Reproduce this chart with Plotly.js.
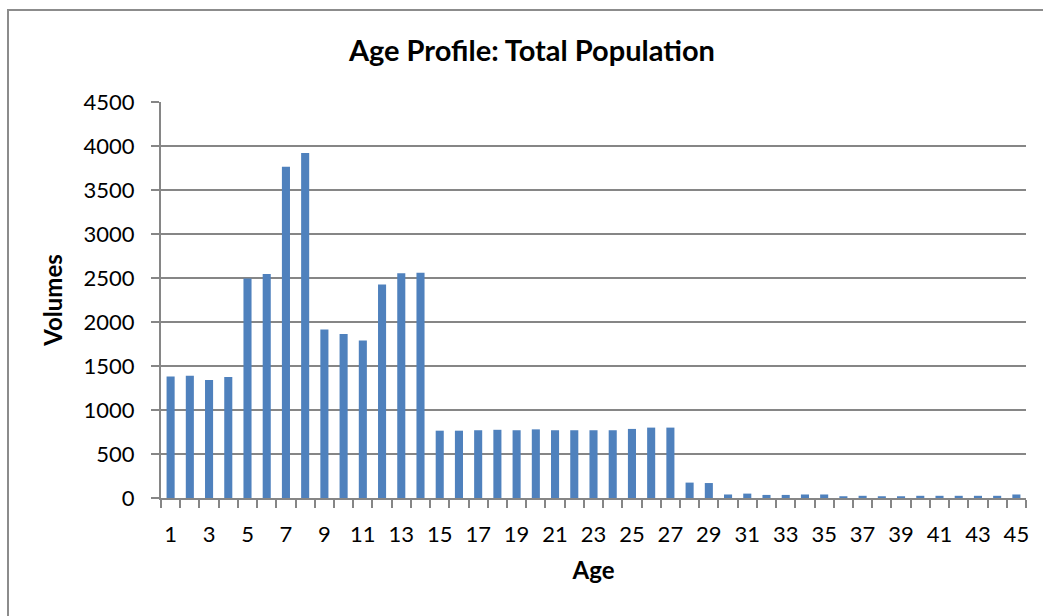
<!DOCTYPE html>
<html>
<head>
<meta charset="utf-8">
<script src="https://cdn.plot.ly/plotly-3.0.1.min.js"></script>
<style>
html,body{margin:0;padding:0;background:#fff;overflow:hidden;}
#chart{width:1043px;height:616px;position:absolute;left:0;top:0;}
#frame{position:absolute;left:7px;top:9px;width:1100px;height:700px;border:2px solid #8c8c8c;pointer-events:none;}
</style>
</head>
<body>
<div id="chart"></div>
<div id="frame"></div>
<script>
const ages = [1,2,3,4,5,6,7,8,9,10,11,12,13,14,15,16,17,18,19,20,21,22,23,24,25,26,27,28,29,30,31,32,33,34,35,36,37,38,39,40,41,42,43,44,45];
const volumes = [1380,1390,1340,1375,2495,2545,3765,3920,1915,1865,1790,2425,2555,2560,765,765,770,775,770,780,770,770,770,770,785,800,800,175,170,40,50,35,35,40,40,20,25,20,20,25,25,25,25,25,40];
const xTickLabels = ['1','3','5','7','9','11','13','15','17','19','21','23','25','27','29','31','33','35','37','39','41','43','45'];
const yTicks = [0,500,1000,1500,2000,2500,3000,3500,4000,4500];

const font = 'Lato, "Open Sans", sans-serif';
const grey = '#868686';

Plotly.newPlot('chart', [{
  type: 'bar',
  x: ages,
  y: volumes,
  marker: {color: '#4F81BD', line: {width: 0}},
  hoverinfo: 'x+y'
}], {
  width: 1043, height: 616,
  margin: {l: 161, r: 17, t: 102, b: 118},
  paper_bgcolor: 'rgba(0,0,0,0)',
  plot_bgcolor: '#fff',
  bargap: 0.58,
  showlegend: false,
  font: {family: font, color: '#000', size: 22},
  title: {text: '<b>Age Profile: Total Population</b>', x: 0.51, xanchor: 'center', y: 0.918, yanchor: 'middle', font: {family: font, size: 29, color: '#000'}},
  xaxis: {
    range: [0.5, 45.5],
    tickmode: 'array',
    tickvals: xTickLabels.map(Number),
    ticktext: xTickLabels,
    ticks: '',
    ticklabelstandoff: 16,
    showgrid: false,
    zeroline: false,
    showline: true, linecolor: grey, linewidth: 2,
    minor: {tick0: 0.5, dtick: 1, ticks: 'outside', ticklen: 8, tickwidth: 2, tickcolor: grey, showgrid: false},
    tickfont: {family: font, size: 22},
    title: {text: '<b>Age</b>', standoff: 16, font: {family: font, size: 24}}
  },
  yaxis: {
    range: [0, 4500],
    tickmode: 'array',
    tickvals: yTicks,
    ticks: 'outside', ticklen: 8, tickwidth: 2, tickcolor: grey,
    ticklabelstandoff: 12,
    showgrid: true, gridcolor: grey, gridwidth: 2,
    zeroline: false,
    showline: true, linecolor: grey, linewidth: 2,
    tickfont: {family: font, size: 22},
    title: {text: '<b>Volumes</b>', standoff: 14, font: {family: font, size: 24}}
  }
}, {displayModeBar: false, staticPlot: true});
</script>
</body>
</html>
